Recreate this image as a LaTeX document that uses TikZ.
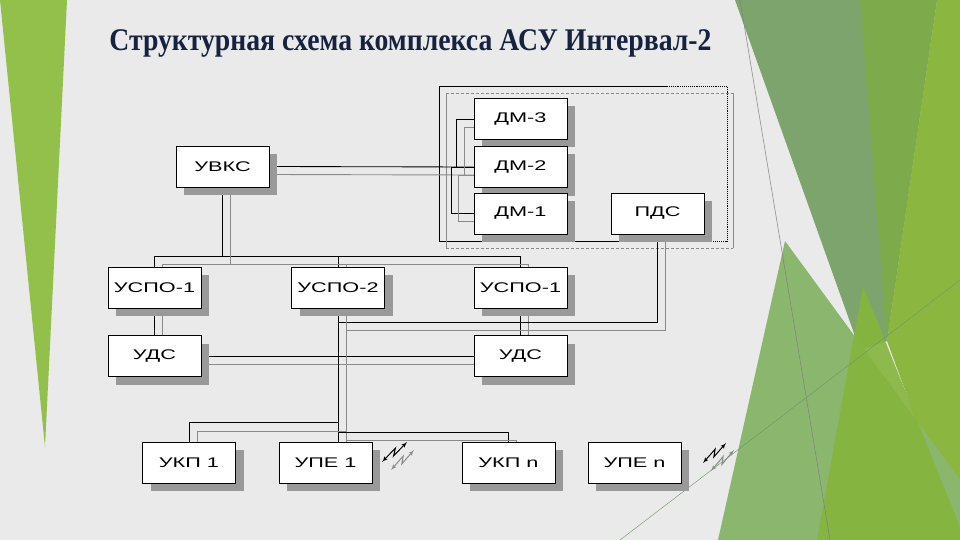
\documentclass[tikz,border=0pt]{standalone}
\usepackage{fontspec}
\usepackage{tikz}
\usetikzlibrary{arrows}
\usetikzlibrary{calc}
\usetikzlibrary{shadows}
\newfontfamily\titlefont[FakeStretch=0.88]{Liberation Serif}
\newfontfamily\blockfont[FakeStretch=1.55]{Liberation Sans}
\definecolor{bgcol}{HTML}{EAEAEA}
\definecolor{titleblue}{HTML}{16223F}
\definecolor{wiregray}{HTML}{8A8A8A}
\definecolor{leafgreen}{HTML}{93BF4B}
\definecolor{sage}{HTML}{7EA46E}
\definecolor{olive}{HTML}{7DAA4A}
\definecolor{brightgreen}{HTML}{8BB741}
\definecolor{lightgreen}{HTML}{8AB66E}
\definecolor{grassgreen}{HTML}{85B53C}
\pgfdeclarelayer{back}
\pgfdeclarelayer{wires}
\pgfsetlayers{back,wires,main}
\newcommand\radiolink[3]{\draw[#3,<->,>=latex',line width=1pt] (#1) -- ($(#1)!0.6!(#2)!2.5pt!90:(#2)$) -- ($(#1)!0.4!(#2)!2.5pt!-90:(#2)$) -- (#2);}

\begin{document}
\begin{tikzpicture}[x=1pt,y=-1pt]
\tikzset{block/.style = {shape=rectangle,draw,fill=white,line width=0.9pt,minimum width=93pt,minimum height=41pt,inner sep=0pt,font=\blockfont\fontsize{14}{16}\selectfont,drop shadow={shadow xshift=8pt,shadow yshift=-8pt,fill=black!40,opacity=1}}}
\tikzset{wire/.style = {line width=0.85pt,black}}
\tikzset{gwire/.style = {line width=0.9pt,wiregray}}
\useasboundingbox (0,0) rectangle (960,540);
\begin{pgfonlayer}{back}
\fill[bgcol] (0,0) rectangle (960,540);
\fill[leafgreen] (0,0) -- (67,0) -- (45,447) -- cycle;
\fill[sage] (735,0) -- (937,0) -- (887,341) -- (860,350) -- cycle;
\fill[olive] (860,0) -- (937,0) -- (887,341) -- cycle;
\fill[brightgreen] (937,0) -- (960,0) -- (960,540) -- (887,341) -- cycle;
\fill[lightgreen] (785,241) -- (960,480) -- (960,540) -- (718,540) -- cycle;
\fill[grassgreen,opacity=0.9] (863,286) -- (960,527) -- (960,540) -- (817,540) -- cycle;
\draw[gray,line width=0.5pt] (740,0) -- (830,540);
\draw[gray!80!green,line width=0.4pt] (620,540) -- (960,280);
\end{pgfonlayer}
\node[font=\titlefont\bfseries\fontsize{31.5}{34}\selectfont,text=titleblue,anchor=base](title) at (410.5,51) {Структурная схема комплекса АСУ Интервал-2};
\node[block](uvks) at (222.5,166.5) {УВКС};
\node[block](dm3) at (520.5,119) {ДМ-3};
\node[block](dm2) at (520.5,167) {ДМ-2};
\node[block](dm1) at (520.5,213.5) {ДМ-1};
\node[block](pds) at (657.5,213.5) {ПДС};
\node[block](uspo1) at (154.5,287.5) {УСПО-1};
\node[block](uspo2) at (338,287.5) {УСПО-2};
\node[block](uspo3) at (520.5,287.5) {УСПО-1};
\node[block](uds1) at (154.5,356) {УДС};
\node[block](uds2) at (520.5,356) {УДС};
\node[block](ukp1) at (189,462.5) {УКП 1};
\node[block](upe1) at (325.5,462.5) {УПЕ 1};
\node[block](ukpn) at (508.5,462.5) {УКП n};
\node[block](upen) at (634.5,462.5) {УПЕ n};
\coordinate (tb) at (0,256);
\coordinate (tg) at (0,264);
\coordinate (mb) at (0,322);
\coordinate (mg) at (0,330);
\coordinate (lb) at (0,422);
\coordinate (lg) at (0,431);
\coordinate (rb) at (0,432);
\coordinate (rg) at (0,440);
\begin{pgfonlayer}{wires}
\draw[line width=0.9pt] (667,86) -- (439,86) -- (439,241) -- (690,241);
\draw[line width=0.9pt,densely dotted] (667,86) -- (727,86) -- (727,241) -- (690,241);
\draw[gwire,densely dashed] (446,93) -- (733,93) (446,248) -- (733,248);
\draw[gwire] (446,93) -- (446,248) (733,93) -- (733,248);
\draw[wire] (uvks.east) -- (dm2.west);
\draw[gwire] ([yshift=-8pt]uvks.east) -- ([yshift=-8pt]dm2.west);
\draw[wire] (dm3.west) -- ++(-17,0) |- (dm2.west);
\draw[wire] (dm1.west) -- ++(-22,0) |- (dm2.west);
\draw[gwire] ([yshift=-8pt]dm3.west) -- ++(-9,0) |- ([yshift=-8pt]dm2.west);
\draw[gwire] ([yshift=-8pt]dm1.west) -- ++(-15,0) |- ([yshift=-8pt]dm2.west);
\draw[wire] (uvks.south) -- (uvks.south |- tb);
\draw[wire] (uspo1.north) |- (uspo3.north |- tb) -- (uspo3.north);
\draw[wire] (uspo2.north) -- (uspo2.north |- tb);
\draw[gwire] ([xshift=8pt]uvks.south) -- ([xshift=8pt]uvks.south |- tg);
\draw[gwire] ([xshift=8pt]uspo1.north) |- ([xshift=8pt]uspo3.north |- tg) -- ([xshift=8pt]uspo3.north);
\draw[gwire] ([xshift=8pt]uspo2.north) -- ([xshift=8pt]uspo2.north |- tg);
\draw[wire] (uspo1.south) -- (uds1.north);
\draw[gwire] ([xshift=8pt]uspo1.south) -- ([xshift=8pt]uds1.north);
\draw[wire] (uds1.east) -- (uds2.west);
\draw[gwire] ([yshift=-8pt]uds1.east) -- ([yshift=-8pt]uds2.west);
\draw[wire] (uspo3.south) -- (uds2.north);
\draw[gwire] ([xshift=8pt]uspo3.south) -- ([xshift=8pt]uds2.north);
\draw[wire] (pds.south) |- (uspo2.south |- mb);
\draw[gwire] ([xshift=8pt]pds.south) |- ([xshift=8pt]uspo2.south |- mg);
\draw[wire] (uspo2.south) -- (uspo2.south |- upe1.north);
\draw[gwire] ([xshift=8pt]uspo2.south) -- ([xshift=8pt]uspo2.south |- upe1.north);
\draw[wire] (ukp1.north) |- (uspo2.south |- lb);
\draw[gwire] ([xshift=8pt]ukp1.north) |- ([xshift=8pt]uspo2.south |- lg);
\draw[wire] (ukpn.north) |- (uspo2.south |- rb);
\draw[gwire] ([xshift=8pt]ukpn.north) |- ([xshift=8pt]uspo2.south |- rg);
\end{pgfonlayer}
\coordinate (r1a) at (382,462);
\coordinate (r1b) at (407,442);
\coordinate (r2a) at (391,470);
\coordinate (r2b) at (414,450);
\coordinate (r3a) at (703,463);
\coordinate (r3b) at (726,443);
\coordinate (r4a) at (711,471);
\coordinate (r4b) at (734,450);
\radiolink{r1a}{r1b}{black}
\radiolink{r2a}{r2b}{wiregray}
\radiolink{r3a}{r3b}{black}
\radiolink{r4a}{r4b}{wiregray}
\end{tikzpicture}
\end{document}
